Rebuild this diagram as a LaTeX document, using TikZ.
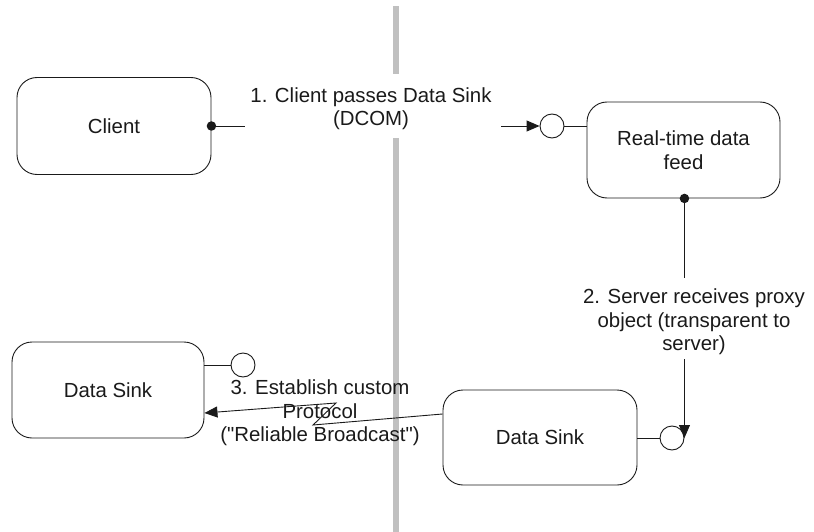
\documentclass[tikz,border=0pt]{standalone}
\usepackage{fontspec}
\setmainfont{Liberation Sans}
\usetikzlibrary{arrows.meta,calc}
\definecolor{sep}{HTML}{C0C0C0}
\definecolor{ink}{HTML}{1A1A1A}
\begin{document}
\begin{tikzpicture}[x=1pt,y=-1pt,
  every node/.style={font=\fontsize{20.4}{23.5}\selectfont, text=ink},
  box/.style={draw=ink, line width=0.9pt, rounded corners=20pt, align=center, inner sep=0pt},
  port/.style={draw=ink, line width=0.9pt, circle, minimum size=24pt, inner sep=0pt, fill=white},
  conn/.style={draw=ink, line width=0.9pt},
  tip/.style={-{Triangle[length=13pt,width=11pt]}},
  dot/.style={fill=ink, circle, minimum size=9.5pt, inner sep=0pt},
  lbl/.style={align=center, inner sep=0pt}]
\useasboundingbox (0,0) rectangle (814,532);
% separator
\fill[sep] (393,6) rectangle (399,532);
% boxes
\node[box, minimum width=194pt, minimum height=97pt] (client) at (114,126) {Client};
\node[box, minimum width=193pt, minimum height=96pt] (feed) at (683.5,150) {Real-time data\\feed};
\node[box, minimum width=192pt, minimum height=96pt] (sinkL) at (108,390) {Data Sink};
\node[box, minimum width=194pt, minimum height=95pt] (sinkR) at (540,437.5) {Data Sink};
% ports
\node[port] (c1) at (552,126) {};
\node[port] (c2) at (243,365) {};
\node[port] (c3) at (672,438) {};
% connector 1
\draw[conn, tip] (client.east) -- (c1.west);
\draw[conn] (c1.east) -- (c1.east -| feed.west);
\node[dot] (d1) at (client.east) {};
\node[lbl, fill=white, minimum width=256pt, minimum height=64pt] (l1) at (373,106) {};
\node[lbl] (l1t) at (371,108.5) {1. Client passes Data Sink\\(DCOM)};
% connector 2
\draw[conn, tip] (c3.east |- feed.south) -- (c3.east);
\node[dot] (d2) at (c3.east |- feed.south) {};
\node[lbl, fill=white, minimum width=60pt, minimum height=81pt] (l2) at (694,318) {};
\node[lbl] (l2t) at (694,322) {2. Server receives proxy\\object (transparent to\\server)};
% sink ports
\draw[conn] (c2.west -| sinkL.east) -- (c2.west);
\draw[conn] (sinkR.east |- c3.west) -- (c3.west);
% connector 3
\coordinate (s3) at ($(sinkR.west)+(0,-23.5)$);
\coordinate (e3) at ($(sinkL.east)+(0,23)$);
\draw[conn, tip] (s3) -- (313,425) -- (336,403) -- (e3);
\node[lbl] (l3) at (320,413) {3. Establish custom\\Protocol\\(\textquotedbl Reliable Broadcast\textquotedbl)};
\end{tikzpicture}
\end{document}
